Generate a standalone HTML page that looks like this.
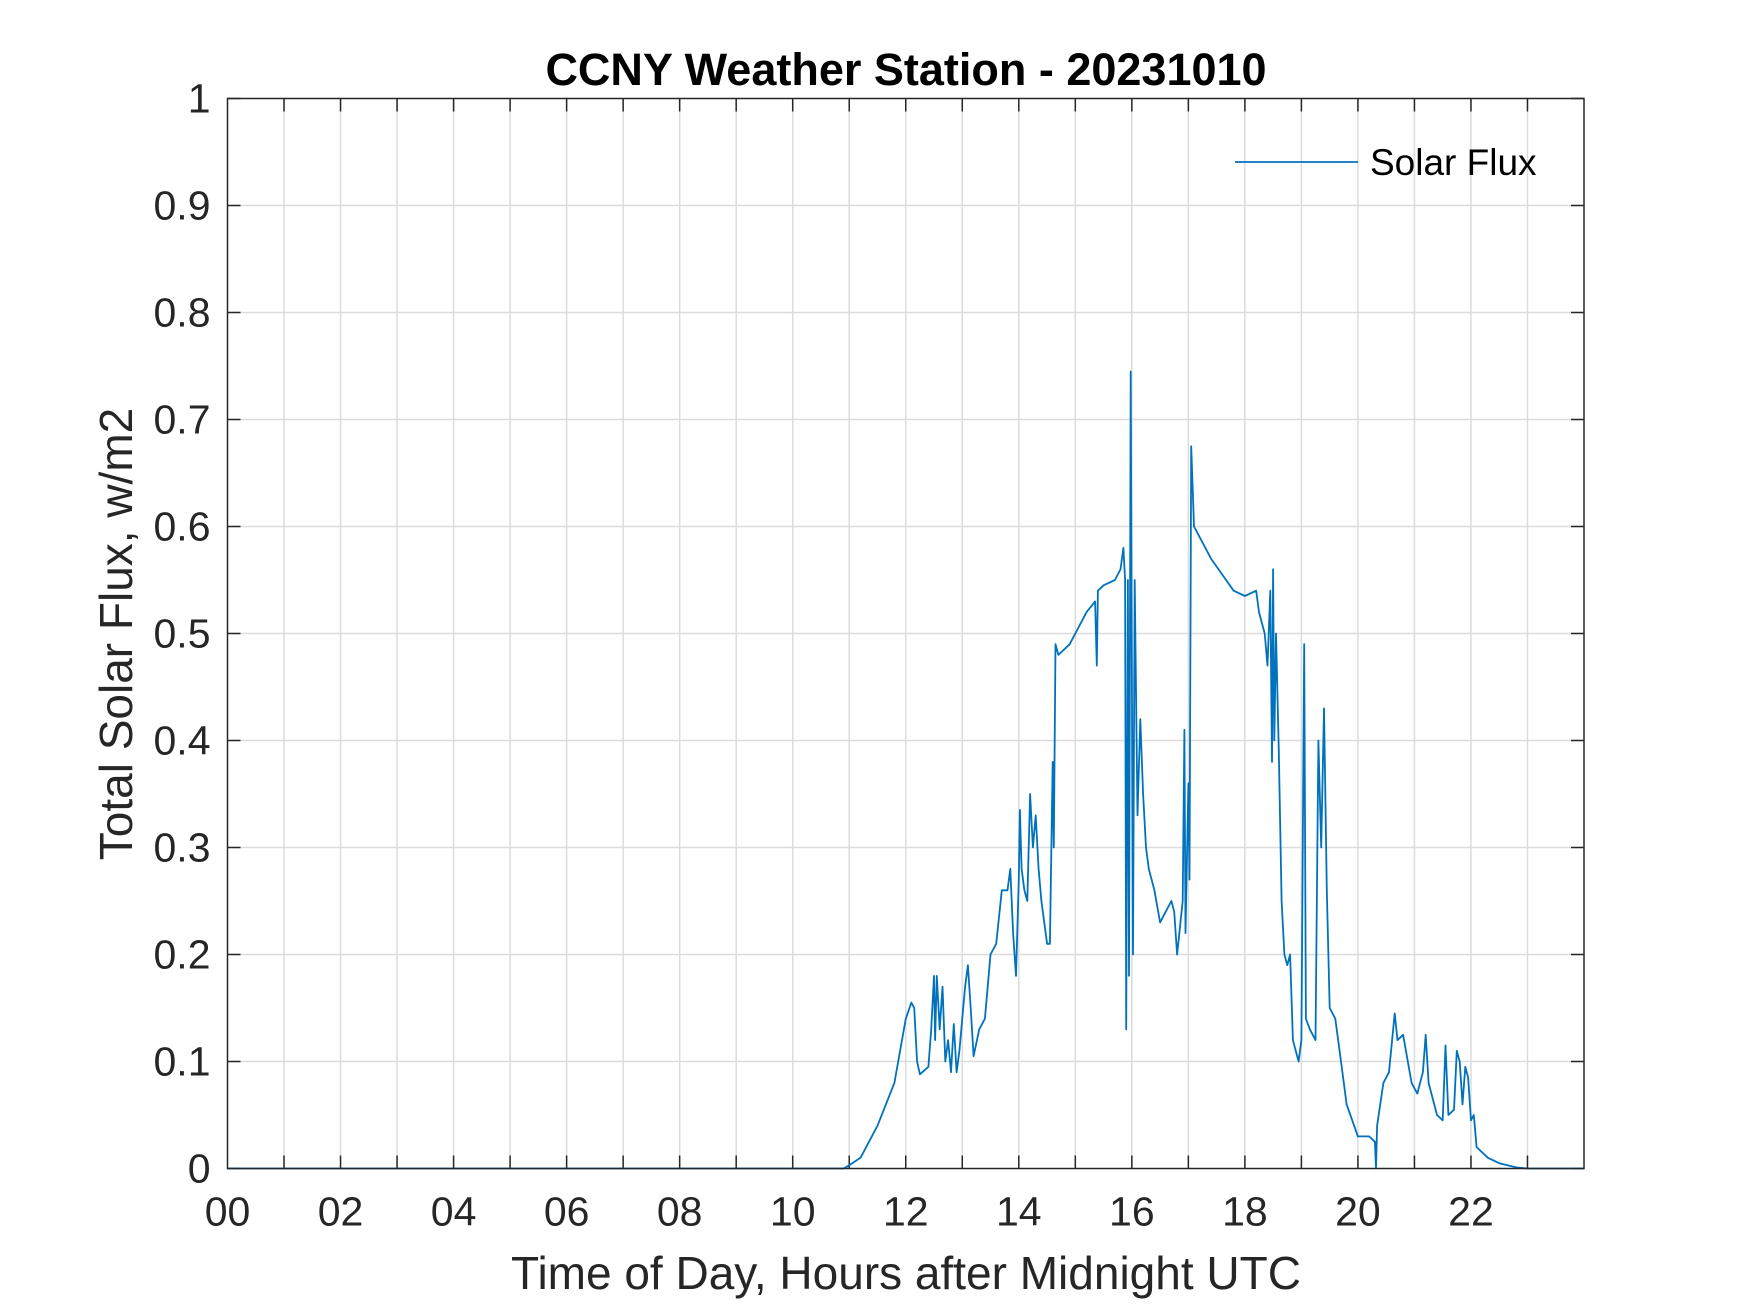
<!DOCTYPE html>
<html><head><meta charset="utf-8"><style>
html,body{margin:0;padding:0;background:#fff;}
svg{display:block;font-family:"Liberation Sans",Arial,sans-serif;}
</style></head><body>
<svg id="chart" width="1750" height="1313" viewBox="0 0 1750 1313" xmlns="http://www.w3.org/2000/svg">
<rect width="1750" height="1313" fill="#fff"/>
<g id="grid"></g>
<g id="ticks"></g>
<g id="series"></g>
<rect x="227.5" y="98.5" width="1356.5" height="1070" fill="none" stroke="#262626" stroke-width="1.5"/>
<text x="906" y="85" text-anchor="middle" font-size="45" font-weight="bold" fill="#000">CCNY Weather Station - 20231010</text>
<text x="906" y="1289" text-anchor="middle" font-size="46" fill="#262626">Time of Day, Hours after Midnight UTC</text>
<text transform="translate(132,634) rotate(-90)" text-anchor="middle" font-size="46" fill="#262626">Total Solar Flux, w/m2</text>
<g>
<line x1="1235" y1="162" x2="1358" y2="162" stroke="#0072BD" stroke-width="1.8"/>
<text x="1370" y="175" font-size="37" fill="#000">Solar Flux</text>
</g>
</svg>
<script>
const hours = [0,10.9,11.0,11.2,11.5,11.8,11.9,12.0,12.1,12.15,12.2,12.25,12.4,12.45,12.5,12.52,12.55,12.6,12.65,12.7,12.75,12.8,12.85,12.9,12.95,13.05,13.1,13.15,13.2,13.3,13.4,13.5,13.6,13.7,13.8,13.85,13.9,13.95,14.0,14.02,14.05,14.1,14.15,14.2,14.25,14.3,14.35,14.4,14.5,14.55,14.6,14.62,14.65,14.7,14.9,15.0,15.2,15.35,15.38,15.4,15.5,15.7,15.8,15.85,15.88,15.9,15.93,15.95,15.98,16.02,16.05,16.1,16.15,16.2,16.25,16.3,16.4,16.5,16.6,16.7,16.75,16.8,16.9,16.93,16.95,17.0,17.02,17.05,17.1,17.2,17.4,17.6,17.8,18.0,18.2,18.25,18.35,18.4,18.45,18.48,18.5,18.52,18.55,18.6,18.65,18.7,18.75,18.8,18.85,18.95,19.0,19.05,19.08,19.15,19.25,19.3,19.35,19.4,19.45,19.5,19.6,19.7,19.8,20.0,20.2,20.3,20.32,20.34,20.45,20.55,20.65,20.7,20.8,20.95,21.05,21.15,21.2,21.25,21.4,21.5,21.55,21.6,21.7,21.75,21.8,21.85,21.9,21.95,22.0,22.05,22.1,22.3,22.5,22.8,23.0,23.98];
const flux = [0,0,0.003,0.01,0.04,0.08,0.11,0.14,0.155,0.15,0.1,0.088,0.095,0.13,0.18,0.12,0.18,0.13,0.17,0.1,0.12,0.09,0.135,0.09,0.11,0.17,0.19,0.15,0.105,0.13,0.14,0.2,0.21,0.26,0.26,0.28,0.22,0.18,0.27,0.335,0.28,0.26,0.25,0.35,0.3,0.33,0.28,0.25,0.21,0.21,0.38,0.3,0.49,0.48,0.49,0.5,0.52,0.53,0.47,0.54,0.545,0.55,0.56,0.58,0.55,0.13,0.55,0.18,0.745,0.2,0.55,0.33,0.42,0.35,0.3,0.28,0.26,0.23,0.24,0.25,0.24,0.2,0.25,0.41,0.22,0.36,0.27,0.675,0.6,0.59,0.57,0.555,0.54,0.535,0.54,0.52,0.5,0.47,0.54,0.38,0.56,0.4,0.5,0.39,0.25,0.2,0.19,0.2,0.12,0.1,0.12,0.49,0.14,0.13,0.12,0.4,0.3,0.43,0.26,0.15,0.14,0.1,0.06,0.03,0.03,0.025,0,0.04,0.08,0.09,0.145,0.12,0.125,0.08,0.07,0.09,0.125,0.08,0.05,0.045,0.115,0.05,0.055,0.11,0.1,0.06,0.095,0.085,0.045,0.05,0.02,0.01,0.005,0.001,0,0];
const xTickLabels = ["00","02","04","06","08","10","12","14","16","18","20","22"];
const yTickLabels = ["0","0.1","0.2","0.3","0.4","0.5","0.6","0.7","0.8","0.9","1"];

const X0=227.5, X1=1584, Y0=1168.5, Y1=98.5;
const xs = h => X0 + h/24*(X1-X0);
const ys = v => Y0 - v*(Y0-Y1);
const NS="http://www.w3.org/2000/svg";
function mk(tag, parent){const e=document.createElementNS(NS,tag);parent.appendChild(e);return e;}
const grid=document.getElementById('grid'), ticks=document.getElementById('ticks'), series=document.getElementById('series');
for(let h=1;h<24;h++){
  const x=xs(h);
  const g=mk('line',grid);
  
  
  g.setAttribute('x1',x);g.setAttribute('x2',x);g.setAttribute('y1',Y1);g.setAttribute('y2',Y0);
  g.setAttribute('stroke','#dcdcdc');g.setAttribute('stroke-width','1.5');
  for(const [a,b] of [[Y0,Y0-13],[Y1,Y1+13]]){
    const t=mk('line',ticks);
    
    
    t.setAttribute('x1',x);t.setAttribute('x2',x);t.setAttribute('y1',a);t.setAttribute('y2',b);
    t.setAttribute('stroke','#262626');t.setAttribute('stroke-width','1.5');
  }
}
xTickLabels.forEach((s,i)=>{
  const t=mk('text',ticks);
  
  
  t.setAttribute('x',xs(i*2));t.setAttribute('y',Y0+57);
  t.setAttribute('text-anchor','middle');t.setAttribute('font-size','41');t.setAttribute('fill','#262626');
  t.textContent=s;
});
yTickLabels.forEach((s,i)=>{
  const v=i/10, y=ys(v);
  if(i>0&&i<10){
    const g=mk('line',grid);
    
    
    g.setAttribute('x1',X0);g.setAttribute('x2',X1);g.setAttribute('y1',y);g.setAttribute('y2',y);
    g.setAttribute('stroke','#dcdcdc');g.setAttribute('stroke-width','1.5');
  }
  for(const [a,b] of [[X0,X0+13],[X1,X1-13]]){
    const t=mk('line',ticks);
    
    
    t.setAttribute('x1',a);t.setAttribute('x2',b);t.setAttribute('y1',y);t.setAttribute('y2',y);
    t.setAttribute('stroke','#262626');t.setAttribute('stroke-width','1.5');
  }
  const l=mk('text',ticks);
  
  
  l.setAttribute('x',X0-17);l.setAttribute('y',y+14);
  l.setAttribute('text-anchor','end');l.setAttribute('font-size','41');l.setAttribute('fill','#262626');
  l.textContent=s;
});
const p=mk('polyline',series);


p.setAttribute('points',hours.map((h,i)=>xs(h).toFixed(1)+','+ys(flux[i]).toFixed(1)).join(' '));
p.setAttribute('fill','none');p.setAttribute('stroke','#0072BD');p.setAttribute('stroke-width','1.8');p.setAttribute('stroke-linejoin','round');
</script>
</body></html>
